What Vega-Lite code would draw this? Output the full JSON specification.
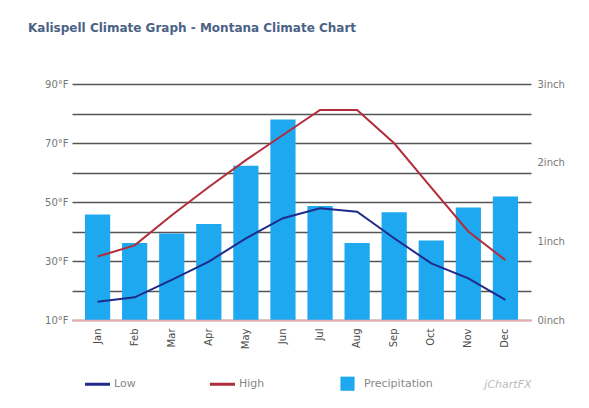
{
  "$schema": "https://vega.github.io/schema/vega-lite/v6.json",
  "width": 459,
  "height": 236,
  "autosize": {"type": "none"},
  "padding": {"left": 72, "top": 84, "right": 58, "bottom": 88},
  "background": "white",
  "title": {
    "text": "Kalispell Climate Graph - Montana Climate Chart",
    "anchor": "start",
    "frame": "group",
    "dx": -44,
    "offset": 44,
    "font": "DejaVu Sans",
    "fontSize": 12,
    "fontWeight": "bold",
    "color": "#4b6286"
  },
  "data": {
    "values": [
      {"month": "Jan", "Low": 16.2, "High": 31.5, "Precipitation": 1.34},
      {"month": "Feb", "Low": 17.7, "High": 35.3, "Precipitation": 0.98},
      {"month": "Mar", "Low": 23.6, "High": 45.5, "Precipitation": 1.10},
      {"month": "Apr", "Low": 29.8, "High": 55.1, "Precipitation": 1.22},
      {"month": "May", "Low": 37.7, "High": 64.2, "Precipitation": 1.96},
      {"month": "Jun", "Low": 44.5, "High": 72.7, "Precipitation": 2.55},
      {"month": "Jul", "Low": 47.9, "High": 81.2, "Precipitation": 1.45},
      {"month": "Aug", "Low": 46.7, "High": 81.2, "Precipitation": 0.98},
      {"month": "Sep", "Low": 37.7, "High": 69.9, "Precipitation": 1.37},
      {"month": "Oct", "Low": 29.2, "High": 54.9, "Precipitation": 1.01},
      {"month": "Nov", "Low": 24.1, "High": 40.0, "Precipitation": 1.43},
      {"month": "Dec", "Low": 16.8, "High": 30.3, "Precipitation": 1.57}
    ]
  },
  "layer": [
    {
      "mark": {"type": "bar"},
      "encoding": {
        "x": {
          "field": "month", "type": "ordinal", "sort": null,
          "scale": {"paddingInner": 0.32, "paddingOuter": 0.35},
          "axis": {
            "title": "jChartFX",
            "titleAnchor": "end",
            "titleFont": "DejaVu Sans",
            "titleFontSize": 11,
            "titleFontStyle": "italic",
            "titleFontWeight": "normal",
            "titleColor": "#bbbbbb",
            "titlePadding": 30,
            "labelAngle": -90,
            "labelFont": "DejaVu Sans",
            "labelFontSize": 10,
            "labelColor": "#4a4a4a",
            "labelPadding": 8,
            "ticks": false,
            "domainColor": "#f0a8a8",
            "domainWidth": 1.5,
            "zindex": 1
          }
        },
        "y": {
          "field": "Precipitation", "type": "quantitative",
          "scale": {"domain": [0, 3], "nice": false},
          "axis": {
            "orient": "right",
            "title": null,
            "values": [0, 1, 2, 3],
            "labelExpr": "datum.value + 'inch'",
            "grid": false,
            "domain": false,
            "ticks": false,
            "labelPadding": 6,
            "labelFont": "DejaVu Sans",
            "labelFontSize": 10,
            "labelColor": "#777777"
          }
        },
        "color": {
          "datum": "Precipitation",
          "type": "nominal",
          "scale": {"domain": ["Low", "High", "Precipitation"], "range": ["#1f2a8a", "#b22d3a", "#1ea8ef"]},
          "legend": {
            "title": null,
            "orient": "none",
            "legendX": 20,
            "legendY": 294,
            "direction": "horizontal",
            "columns": 3,
            "gridAlign": "all",
            "columnPadding": 21,
            "labelFont": "DejaVu Sans",
            "labelFontSize": 11,
            "labelColor": "#888888",
            "labelOffset": 11,
            "encode": {
              "symbols": {
                "update": {
                  "fill": {"scale": "color", "field": "value"},
                  "stroke": {"scale": "color", "field": "value"},
                  "shape": {"signal": "datum.value === 'Precipitation' ? 'square' : 'stroke'"},
                  "size": {"signal": "datum.value === 'Precipitation' ? 200 : 625"},
                  "strokeWidth": {"signal": "datum.value === 'Precipitation' ? 0 : 3"}
                }
              }
            }
          }
        }
      }
    },
    {
      "transform": [{"fold": ["Low", "High"], "as": ["series", "temp"]}],
      "mark": {"type": "line", "strokeWidth": 2},
      "encoding": {
        "x": {"field": "month", "type": "ordinal", "sort": null},
        "y": {
          "field": "temp", "type": "quantitative",
          "scale": {"domain": [10, 90], "nice": false},
          "axis": {
            "orient": "left",
            "title": null,
            "values": [10, 20, 30, 40, 50, 60, 70, 80, 90],
            "labelExpr": "datum.value % 20 === 10 ? datum.value + '°F' : ''",
            "grid": true,
            "gridColor": "#555555",
            "gridWidth": 1.5,
            "domain": false,
            "ticks": false,
            "labelPadding": 4,
            "labelFont": "DejaVu Sans",
            "labelFontSize": 10,
            "labelColor": "#777777"
          }
        },
        "color": {"field": "series", "type": "nominal", "legend": {"title": null}}
      }
    }
  ],
  "resolve": {"scale": {"y": "independent"}},
  "config": {"view": {"stroke": null}, "legend": {"title": null}}
}
